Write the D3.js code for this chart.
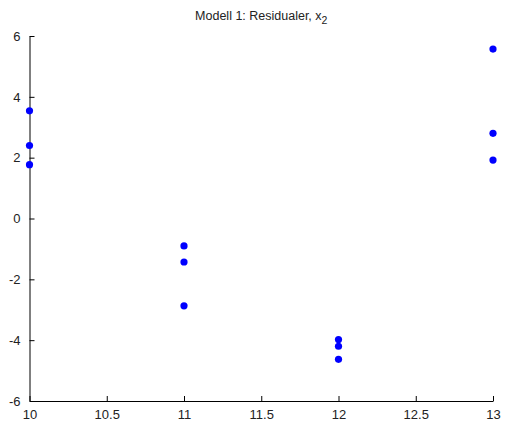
<!DOCTYPE html>
<html>
<head>
<meta charset="utf-8">
<script src="https://cdn.jsdelivr.net/npm/d3@7"></script>
<style>
  html, body { margin: 0; padding: 0; background: #fff; }
  svg text { font-family: "Liberation Sans", Arial, Helvetica, sans-serif; fill: #222; }
</style>
</head>
<body>
<svg id="chart" width="506" height="423"></svg>
<script>
// Data
const xValues = [10, 10, 10, 11, 11, 11, 12, 12, 12, 13, 13, 13];
const residuals = [3.54, 2.40, 1.77, -0.90, -1.43, -2.87, -3.98, -4.20, -4.63, 5.57, 2.80, 1.92];
const xTicks = [10, 10.5, 11, 11.5, 12, 12.5, 13];
const yTicks = [-6, -4, -2, 0, 2, 4, 6];
const titleMain = "Modell 1: Residualer, x";
const titleSub = "2";

const svg = d3.select("#chart");
const margin = { left: 29.5, right: 13, top: 36, bottom: 22 };
const W = 506, H = 423;

const x = d3.scaleLinear().domain([10, 13]).range([margin.left, W - margin.right]);
const y = d3.scaleLinear().domain([-6, 6]).range([H - margin.bottom, margin.top]);

// X axis (ticks inward, i.e. pointing up)
const xAxis = d3.axisBottom(x).tickValues(xTicks).tickSizeInner(-5).tickSizeOuter(0)
  .tickPadding(9).tickFormat(d => String(d));
const gx = svg.append("g").attr("transform", `translate(0,${y(-6)})`).call(xAxis);
gx.select(".domain").attr("stroke", "#000");
gx.selectAll(".tick line").attr("stroke", "#000");
gx.selectAll("text").attr("font-size", 13).attr("fill", "#222")
  .attr("font-family", "Liberation Sans, Arial, sans-serif");

// Y axis (ticks inward, pointing right)
const yAxis = d3.axisLeft(y).tickValues(yTicks).tickSizeInner(-5).tickSizeOuter(0)
  .tickPadding(9).tickFormat(d => String(d));
const gy = svg.append("g").attr("transform", `translate(${x(10)},0)`).call(yAxis);
gy.select(".domain").attr("stroke", "#000");
gy.selectAll(".tick line").attr("stroke", "#000");
gy.selectAll("text").attr("font-size", 13).attr("fill", "#222")
  .attr("font-family", "Liberation Sans, Arial, sans-serif");

// Points
svg.append("g").selectAll("circle")
  .data(xValues.map((d, i) => [d, residuals[i]]))
  .join("circle")
  .attr("cx", d => x(d[0]))
  .attr("cy", d => y(d[1]))
  .attr("r", 3.6)
  .attr("fill", "#0000ff");

// Title
const t = svg.append("text")
  .attr("x", (x(10) + x(13)) / 2)
  .attr("y", 20)
  .attr("text-anchor", "middle")
  .attr("font-size", 12.5)
  .attr("fill", "#222");
t.append("tspan").text(titleMain);
t.append("tspan").attr("dy", 4).attr("font-size", 10.5).text(titleSub);
</script>
</body>
</html>
